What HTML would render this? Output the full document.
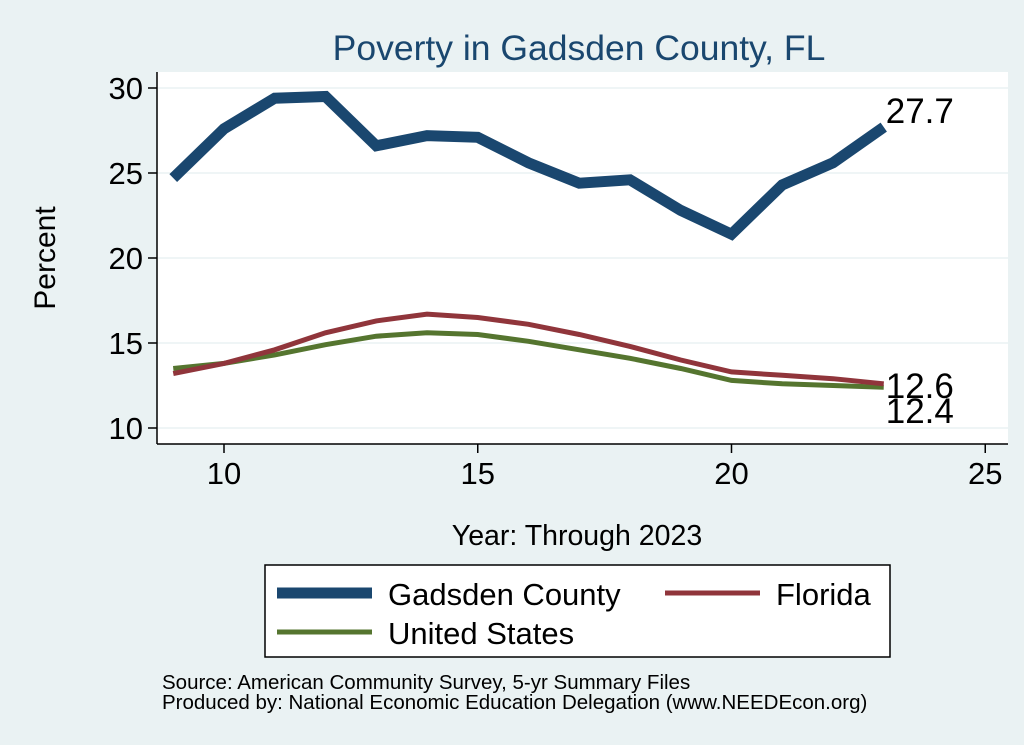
<!DOCTYPE html>
<html><head><meta charset="utf-8"><style>
body{margin:0;background:#eaf2f3;}
svg{display:block;font-family:"Liberation Sans",Arial,sans-serif;}
</style></head><body>
<svg width="1024" height="745" viewBox="0 0 1024 745">
<rect x="0" y="0" width="1024" height="745" fill="#eaf2f3"/>
<rect x="157" y="72" width="851" height="372" fill="#ffffff"/>
<text x="579" y="60" font-size="35.5" fill="#1a476f" text-anchor="middle">Poverty in Gadsden County, FL</text>
<g id="grid"></g><g id="axes"></g><g id="series"></g>
<text x="55" y="258" font-size="30" fill="#000" text-anchor="middle" transform="rotate(-90 55 258)">Percent</text>
<text x="577" y="545" font-size="28.5" fill="#000" text-anchor="middle">Year: Through 2023</text>
<g>
<rect x="265" y="565" width="625" height="92" fill="#fff" stroke="#000" stroke-width="1.5"/>
<line x1="277" y1="593" x2="372" y2="593" stroke="#1a476f" stroke-width="11"/>
<text x="388" y="605" font-size="31">Gadsden County</text>
<line x1="665" y1="593" x2="760" y2="593" stroke="#90353b" stroke-width="5"/>
<text x="776" y="605" font-size="31">Florida</text>
<line x1="277" y1="632" x2="372" y2="632" stroke="#55752f" stroke-width="5"/>
<text x="388" y="644" font-size="31">United States</text>
</g>
<text x="162" y="689" font-size="20.5">Source: American Community Survey, 5-yr Summary Files</text>
<text x="162" y="709" font-size="20.5">Produced by: National Economic Education Delegation (www.NEEDEcon.org)</text>
</svg>
<script>
const years=[9,10,11,12,13,14,15,16,17,18,19,20,21,22,23];
const gadsden=[24.7,27.6,29.4,29.5,26.6,27.2,27.1,25.6,24.4,24.6,22.8,21.4,24.3,25.6,27.7];
const florida=[13.2,13.8,14.6,15.6,16.3,16.7,16.5,16.1,15.5,14.8,14.0,13.3,13.1,12.9,12.6];
const usa=[13.5,13.8,14.3,14.9,15.4,15.6,15.5,15.1,14.6,14.1,13.5,12.8,12.6,12.5,12.4];
const xTicks=[10,15,20,25];
const yTicks=[10,15,20,25,30];
const NS='http://www.w3.org/2000/svg';
function X(v){return 224+(v-10)*50.75;}
function Y(v){return 428-(v-10)*17;}
function mk(tag,attrs,parent,txt){const e=document.createElementNS(NS,tag);for(const k in attrs)e.setAttribute(k,attrs[k]);if(txt!==undefined)e.textContent=txt;parent.appendChild(e);return e;}
const grid=document.getElementById('grid'),axes=document.getElementById('axes'),ser=document.getElementById('series');
yTicks.forEach(t=>{
 const g=mk('line',{x1:157,x2:1008,y1:Y(t),y2:Y(t),stroke:'#eaf2f3','stroke-width':1.5},grid);
 
 
 const tk=mk('line',{x1:148,x2:157,y1:Y(t),y2:Y(t),stroke:'#000','stroke-width':1.5},axes);
 
 
 const l=mk('text',{x:143,y:Y(t)+11,'font-size':31,'text-anchor':'end'},axes,String(t));
 
 
});
xTicks.forEach(t=>{
 const tk=mk('line',{x1:X(t),x2:X(t),y1:444,y2:453,stroke:'#000','stroke-width':1.5},axes);
 
 
 const l=mk('text',{x:X(t),y:484,'font-size':31,'text-anchor':'middle'},axes,String(t));
 
 
});
const ya=mk('line',{x1:157,x2:157,y1:72,y2:444,stroke:'#000','stroke-width':1.5},axes);


const xa=mk('line',{x1:157,x2:1008,y1:444,y2:444,stroke:'#000','stroke-width':1.5},axes);


function line(vals,color,w,name){
 const p=mk('polyline',{points:vals.map((v,i)=>X(years[i])+','+Y(v)).join(' '),fill:'none',stroke:color,'stroke-width':w,'stroke-linejoin':'miter'},ser);
 
 
}
line(usa,'#55752f',5,'line-united-states');
line(florida,'#90353b',5,'line-florida');
line(gadsden,'#1a476f',11,'line-gadsden-county');
const n=years.length-1;
[[gadsden,'label-gadsden-last',-4],[florida,'label-florida-last',14],[usa,'label-us-last',36]].forEach(([s,name,dy])=>{
 const t=mk('text',{x:X(years[n])+2,y:Y(s[n])+dy,'font-size':35},ser,s[n].toFixed(1));
 
 
});
</script>
</body></html>
